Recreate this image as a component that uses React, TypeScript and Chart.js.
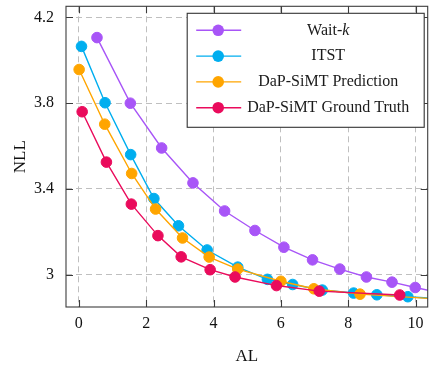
import { useEffect, useRef } from "react";
import { Chart, registerables } from "chart.js";

Chart.register(...registerables);

const seriesNames = ["Wait-k", "ITST", "DaP-SiMT Prediction", "DaP-SiMT Ground Truth"];
const seriesColors = ["#a855f7", "#00aeef", "#ffa500", "#ea0b5c"];

const waitKAL = [0.54, 1.53, 2.46, 3.39, 4.33, 5.23, 6.09, 6.94, 7.75, 8.54, 9.3, 9.99, 10.7];
const waitKNLL = [4.106, 3.8, 3.591, 3.428, 3.297, 3.206, 3.128, 3.069, 3.026, 2.989, 2.965, 2.94, 2.916];

const itstAL = [0.08, 0.78, 1.54, 2.23, 2.96, 3.81, 4.72, 5.6, 6.35, 7.23, 8.16, 8.85, 9.77, 10.6];
const itstNLL = [4.065, 3.802, 3.56, 3.355, 3.228, 3.115, 3.035, 2.978, 2.954, 2.928, 2.914, 2.906, 2.897, 2.889];

const predAL = [0.01, 0.77, 1.57, 2.28, 3.08, 3.87, 4.72, 6.0, 6.98, 8.35, 10.8];
const predNLL = [3.957, 3.702, 3.472, 3.306, 3.171, 3.082, 3.026, 2.969, 2.934, 2.909, 2.885];

const gtAL = [0.1, 0.82, 1.56, 2.35, 3.04, 3.9, 4.64, 5.87, 7.14, 9.53];
const gtNLL = [3.76, 3.525, 3.329, 3.182, 3.083, 3.023, 2.989, 2.949, 2.923, 2.905];

const xTicks = [0, 2, 4, 6, 8, 10];
const xTickLabels = ["0", "2", "4", "6", "8", "10"];
const yTicks = [3, 3.4, 3.8, 4.2];
const yTickLabels = ["3", "3.4", "3.8", "4.2"];

const xTitle = "AL";
const yTitle = "NLL";

const FONT = '"Liberation Serif", "Times New Roman", serif';

const toPoints = (xs: number[], ys: number[]) => xs.map((x, i) => ({ x, y: ys[i] }));

const framePlugin = {
  id: "frameTicks",
  afterDatasetsDraw(chart: any) {
    const { ctx, chartArea: ca, scales } = chart;
    ctx.save();
    ctx.strokeStyle = "#3c3c3c";
    ctx.lineWidth = 1.1;
    ctx.setLineDash([]);
    ctx.strokeRect(ca.left, ca.top, ca.right - ca.left, ca.bottom - ca.top);
    const tl = 7;
    ctx.beginPath();
    xTicks.forEach((v) => {
      const px = Math.round(scales.x.getPixelForValue(v)) + 0.5;
      ctx.moveTo(px, ca.bottom);
      ctx.lineTo(px, ca.bottom - tl);
      ctx.moveTo(px, ca.top);
      ctx.lineTo(px, ca.top + tl);
    });
    yTicks.forEach((v) => {
      const py = Math.round(scales.y.getPixelForValue(v)) + 0.5;
      ctx.moveTo(ca.left, py);
      ctx.lineTo(ca.left + tl, py);
      ctx.moveTo(ca.right, py);
      ctx.lineTo(ca.right - tl, py);
    });
    ctx.stroke();
    ctx.restore();
  },
};

const legendPlugin = {
  id: "boxLegend",
  afterDraw(chart: any) {
    const { ctx, chartArea: ca } = chart;
    const w = 237;
    const h = 114;
    const x1 = ca.right - 3.5;
    const x0 = x1 - w;
    const y0 = ca.top + 7;
    ctx.save();
    ctx.fillStyle = "#ffffff";
    ctx.fillRect(x0, y0, w, h);
    ctx.strokeStyle = "#333333";
    ctx.lineWidth = 1.1;
    ctx.setLineDash([]);
    ctx.strokeRect(x0, y0, w, h);
    chart.data.datasets.forEach((ds: any, i: number) => {
      const ry = y0 + 17 + i * 25.8;
      ctx.strokeStyle = ds.borderColor;
      ctx.lineWidth = 1.4;
      ctx.beginPath();
      ctx.moveTo(x0 + 9, ry);
      ctx.lineTo(x0 + 54, ry);
      ctx.stroke();
      ctx.fillStyle = ds.backgroundColor;
      ctx.beginPath();
      ctx.arc(x0 + 31, ry, 5.8, 0, Math.PI * 2);
      ctx.fill();
      const label: string = ds.label;
      const cx = x0 + 141;
      ctx.fillStyle = "#1a1a1a";
      ctx.textBaseline = "middle";
      ctx.textAlign = "left";
      const normal = `16px ${FONT}`;
      const italic = `italic 16px ${FONT}`;
      if (label.endsWith("-k")) {
        const a = label.slice(0, -1);
        ctx.font = normal;
        const wa = ctx.measureText(a).width;
        ctx.font = italic;
        const wb = ctx.measureText("k").width;
        const sx = cx - (wa + wb) / 2;
        ctx.font = normal;
        ctx.fillText(a, sx, ry);
        ctx.font = italic;
        ctx.fillText("k", sx + wa, ry);
      } else {
        ctx.font = normal;
        const wt = ctx.measureText(label).width;
        ctx.fillText(label, cx - wt / 2, ry);
      }
    });
    ctx.restore();
  },
};

export default function App() {
  const ref = useRef<HTMLCanvasElement | null>(null);

  useEffect(() => {
    document.body.style.margin = "0";
    const canvas = ref.current;
    if (!canvas) return;
    const allX = [waitKAL, itstAL, predAL, gtAL];
    const allY = [waitKNLL, itstNLL, predNLL, gtNLL];
    const datasets = seriesNames.map((name, i) => ({
      label: name,
      data: toPoints(allX[i], allY[i]),
      borderColor: seriesColors[i],
      backgroundColor: seriesColors[i],
      pointBackgroundColor: seriesColors[i],
      pointBorderColor: seriesColors[i],
      borderWidth: 1.4,
      pointRadius: 5.3,
      pointBorderWidth: 1,
      pointHoverRadius: 5.3,
      tension: 0,
      order: seriesNames.length - i,
    }));
    const chart = new Chart(canvas, {
      type: "line",
      data: { datasets },
      options: {
        animation: false,
        responsive: false,
        devicePixelRatio: 1,
        layout: { padding: { left: 0, top: 3, right: 4.5, bottom: 0 } },
        plugins: {
          legend: { display: false },
          tooltip: { enabled: false },
        },
        scales: {
          x: {
            type: "linear",
            min: -0.38,
            max: 10.36,
            afterBuildTicks: (axis: any) => {
              axis.ticks = xTicks.map((v) => ({ value: v }));
            },
            afterFit: (scale: any) => {
              scale.height = 62;
              scale.paddingLeft = 0;
              scale.paddingRight = 0;
            },
            grid: { color: "#bfbfbf", lineWidth: 1, drawTicks: false },
            border: { display: false, dash: [6, 4] },
            ticks: {
              autoSkip: false,
              maxRotation: 0,
              padding: 7,
              color: "#111111",
              font: { family: FONT, size: 16 },
              callback: (v: any) => {
                const idx = xTicks.indexOf(Number(v));
                return idx >= 0 ? xTickLabels[idx] : "";
              },
            },
            title: {
              display: true,
              text: xTitle,
              color: "#111111",
              font: { family: FONT, size: 17 },
              padding: { top: 0, bottom: 2 },
            },
          },
          y: {
            type: "linear",
            min: 2.849,
            max: 4.252,
            afterBuildTicks: (axis: any) => {
              axis.ticks = yTicks.map((v) => ({ value: v }));
            },
            afterFit: (scale: any) => {
              scale.width = 66;
              scale.paddingTop = 0;
              scale.paddingBottom = 0;
            },
            grid: { color: "#bfbfbf", lineWidth: 1, drawTicks: false },
            border: { display: false, dash: [6, 4] },
            ticks: {
              autoSkip: false,
              padding: 12,
              color: "#111111",
              font: { family: FONT, size: 16 },
              callback: (v: any) => {
                const idx = yTicks.findIndex((t) => Math.abs(t - Number(v)) < 1e-9);
                return idx >= 0 ? yTickLabels[idx] : "";
              },
            },
            title: {
              display: true,
              text: yTitle,
              color: "#111111",
              font: { family: FONT, size: 17 },
              padding: { top: 10, bottom: 0 },
            },
          },
        },
      },
      plugins: [framePlugin, legendPlugin],
    } as any);
    return () => chart.destroy();
  }, []);

  return <canvas ref={ref} width={434} height={369} style={{ display: "block" }} />;
}
